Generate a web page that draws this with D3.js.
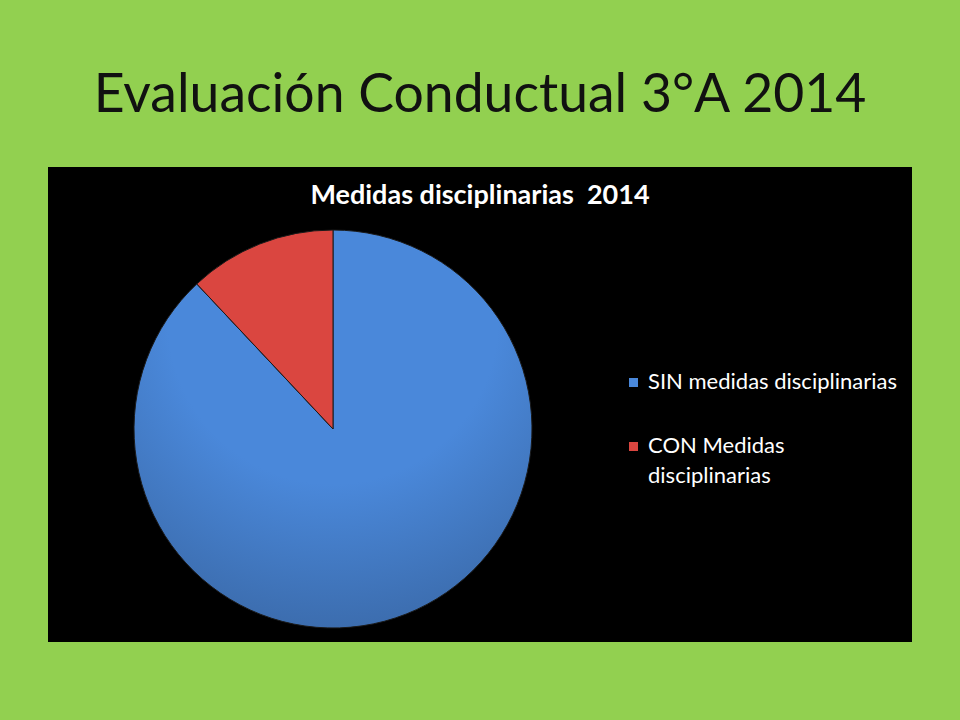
<!DOCTYPE html>
<html><head><meta charset="utf-8">
<script src="https://cdn.jsdelivr.net/npm/d3@7"></script>
<style>body{margin:0;background:#92d050;}svg{display:block}</style>
</head><body>
<script>
const categories = ["SIN medidas disciplinarias", "CON Medidas disciplinarias"];
const legendLines = [["SIN medidas disciplinarias"], ["CON Medidas", "disciplinarias"]];
const values = [88, 12];
const colors = ["#4a88da", "#da4640"];
const darkColors = ["#3a69a8", "#ad3934"];
const pageTitle = "Evaluación Conductual 3°A 2014";
const chartTitle = "Medidas disciplinarias  2014";

const W = 960, H = 720;
const svg = d3.select("body").append("svg").attr("width", W).attr("height", H);
svg.append("rect").attr("width", W).attr("height", H).attr("fill", "#92d050");

svg.append("text").attr("x", 480).attr("y", 112).attr("text-anchor", "middle")
  .attr("font-family", "Lato, 'Open Sans', sans-serif").attr("font-size", 53.5)
  .attr("fill", "#111").text(pageTitle);

svg.append("rect").attr("x", 48).attr("y", 167).attr("width", 864).attr("height", 475).attr("fill", "#000");

svg.append("text").attr("x", 480).attr("y", 204).attr("text-anchor", "middle")
  .attr("font-family", "Lato, 'Open Sans', sans-serif").attr("font-weight", "bold").attr("font-size", 27)
  .style("white-space", "pre")
  .attr("fill", "#fff").text(chartTitle);

const defs = svg.append("defs");
colors.forEach((c, i) => {
  const g = defs.append("radialGradient").attr("id", "pg" + i)
    .attr("gradientUnits", "userSpaceOnUse").attr("cx", 0).attr("cy", -110).attr("r", 330);
  g.append("stop").attr("offset", "0%").attr("stop-color", c);
  g.append("stop").attr("offset", "50%").attr("stop-color", c);
  g.append("stop").attr("offset", "100%").attr("stop-color", darkColors[i]);
});

const cx = 333, cy = 429, r = 199;
const pie = d3.pie().sort(null).value(d => d)(values);
const arc = d3.arc().innerRadius(0).outerRadius(r);
const gp = svg.append("g").attr("transform", `translate(${cx},${cy})`);
gp.selectAll("path").data(pie).join("path")
  .attr("d", arc).attr("fill", (d, i) => `url(#pg${i})`)
  .attr("stroke", "#1a1a1a").attr("stroke-width", 1);

const leg = svg.append("g");
const legY = [389, 453];
categories.forEach((c, i) => {
  leg.append("rect").attr("x", 629).attr("y", legY[i] - 11).attr("width", 9).attr("height", 9)
    .attr("fill", colors[i]);
  legendLines[i].forEach((t, j) => {
    leg.append("text").attr("x", 648).attr("y", legY[i] + j * 30)
      .attr("font-family", "Lato, 'Open Sans', sans-serif").attr("font-size", 22)
      .attr("fill", "#fff").text(t);
  });
});
</script>
</body></html>
